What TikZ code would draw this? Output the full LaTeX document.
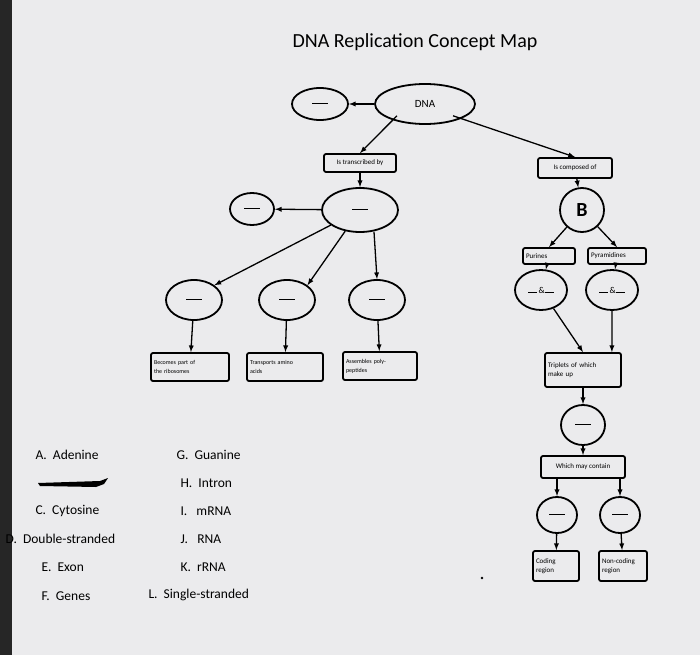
\documentclass[tikz,border=0pt]{standalone}
\usepackage{fontspec}
\setmainfont{Carlito}
\usetikzlibrary{shapes.geometric}
\begin{document}
\begin{tikzpicture}[x=1pt,y=-1pt,
 ov/.style={draw,line width=1.8pt,ellipse,inner sep=0pt},
 bx/.style={draw,line width=1.8pt,rounded corners=2pt,font=\fontsize{7}{9}\selectfont,align=left,inner sep=2pt},
 ar/.style={-latex,line width=1.3pt},
 lg/.style={anchor=west,font=\fontsize{13.5}{15}\selectfont}]
\fill[white!88!blue!30!gray!20] (0,0) rectangle (700,655);
\fill[black!85] (0,0) rectangle (12,655);
\useasboundingbox (0,0) rectangle (700,655);
\node[font=\fontsize{20}{22}\selectfont] (title) at (415,42) {DNA Replication Concept Map};
\newcommand{\blank}{\rule[0.3ex]{16pt}{1.4pt}}
\node[ov,minimum width=100pt,minimum height=40pt,font=\fontsize{11}{12}\selectfont] (dna) at (425,104) {DNA};
\node[ov,minimum width=56pt,minimum height=32pt] (e0) at (320,104) {\blank};
\node[bx,minimum width=72pt,minimum height=18pt] (tr) at (360,163) {Is transcribed by};
\node[bx,minimum width=74pt,minimum height=20pt] (co) at (575,168) {Is composed of};
\node[ov,minimum width=76pt,minimum height=44pt] (em) at (360,210) {\blank};
\node[ov,minimum width=44pt,minimum height=32pt] (el) at (252,209) {\blank};
\node[ov,minimum width=56pt,minimum height=40pt] (e1) at (194,300) {\blank};
\node[ov,minimum width=56pt,minimum height=40pt] (e2) at (287,300) {\blank};
\node[ov,minimum width=56pt,minimum height=40pt] (e3) at (377,300) {\blank};
\node[bx,minimum width=78pt,minimum height=28pt,text width=72pt,font=\fontsize{6}{9}\selectfont] (b1) at (190,367) {Becomes part of\\the ribosomes};
\node[bx,minimum width=76pt,minimum height=28pt,text width=70pt,font=\fontsize{6}{9}\selectfont] (b2) at (285,367) {Transports amino\\acids};
\node[bx,minimum width=74pt,minimum height=28pt,text width=68pt,font=\fontsize{6}{9}\selectfont] (b3) at (380,366) {Assembles poly-\\peptides};
\node[draw,line width=1.8pt,circle,minimum size=44pt,inner sep=0pt,font=\fontsize{20}{22}\selectfont\bfseries] (bc) at (582,210) {B};
\node[bx,minimum width=52pt,minimum height=16pt,text width=46pt] (pu) at (549,256) {Purines};
\node[bx,minimum width=58pt,minimum height=16pt,text width=52pt] (py) at (617,256) {Pyramidines};
\node[ov,minimum width=52pt,minimum height=40pt,font=\fontsize{9}{9}\selectfont] (a1) at (541,290) {\rule{9pt}{1.4pt}\,\&\rule{9pt}{1.4pt}};
\node[ov,minimum width=52pt,minimum height=40pt,font=\fontsize{9}{9}\selectfont] (a2) at (612,290) {\rule{9pt}{1.4pt}\,\&\rule{9pt}{1.4pt}};
\node[bx,minimum width=76pt,minimum height=34pt,text width=70pt] (tp) at (583,370) {Triplets of which\\make up};
\node[ov,minimum width=44pt,minimum height=40pt] (eg) at (583,425) {\blank};
\node[bx,minimum width=84pt,minimum height=22pt] (wm) at (583,467) {Which may contain};
\node[ov,minimum width=40pt,minimum height=36pt] (c1) at (557,515) {\blank};
\node[ov,minimum width=40pt,minimum height=36pt] (c2) at (620,515) {\blank};
\node[bx,minimum width=46pt,minimum height=30pt,text width=40pt] (k1) at (556,566) {Coding\\region};
\node[bx,minimum width=48pt,minimum height=30pt,text width=42pt] (k2) at (623,566) {Non-coding\\region};
\draw[ar] (dna) -- (e0);
\draw[ar] (dna.south west) ++(8,-3) coordinate (d1) (d1) -- (tr.north);
\draw[ar] (dna.south east) ++(-8,-3) coordinate (d2) (d2) -- (co.north);
\draw[ar] (tr) -- (em);
\draw[ar] (co) -- (bc);
\draw[ar] (em) -- (el);
\draw[ar] (em) -- (e1.north east);
\draw[ar] (em) -- (e2.north east);
\draw[ar] (em.south) ++(14,-1) coordinate (m3) (m3) -- (e3.north);
\draw[ar] (e1) -- (b1);
\draw[ar] (e2) -- (b2);
\draw[ar] (e3) -- (b3);
\draw[ar] (bc) -- (pu.north);
\draw[ar] (bc) -- (py.north);
\draw[ar] (pu) -- (a1);
\draw[ar] (py) -- (a2);
\draw[ar] (a1) -- (tp.north);
\draw[ar] (a2) -- ([xshift=-10pt]tp.north east);
\draw[ar] (tp) -- (eg);
\draw[ar] (eg) -- (wm);
\draw[ar] (wm.south -| c1) -- (c1);
\draw[ar] (wm.south -| c2) -- (c2);
\draw[ar] (c1) -- (k1);
\draw[ar] (c2) -- (k2);
\node[lg] (la) at (32,455) {A.\ \ Adenine};
\node[lg] (lc) at (32,511) {C.\ \ Cytosine};
\node[lg] (ld) at (2,539) {D.\ \ Double-stranded};
\node[lg] (le) at (38,567) {E.\ \ Exon};
\node[lg] (lf) at (38,596) {F.\ \ Genes};
\node[lg] (lgg) at (173,455) {G.\ \ Guanine};
\node[lg] (lh) at (177,483) {H.\ \ Intron};
\node[lg] (li) at (177,511) {I.\ \ \ mRNA};
\node[lg] (lj) at (177,539) {J.\ \ \ RNA};
\node[lg] (lk) at (177,567) {K.\ \ rRNA};
\node[lg] (ll) at (145,595) {L.\ \ Single-stranded};
\fill[black] (38,483) -- (100,481) -- (108,478) -- (104,484) -- (96,487) -- (40,486) -- cycle;
\fill[black] (482,578) circle (1.3);
\end{tikzpicture}
\end{document}
